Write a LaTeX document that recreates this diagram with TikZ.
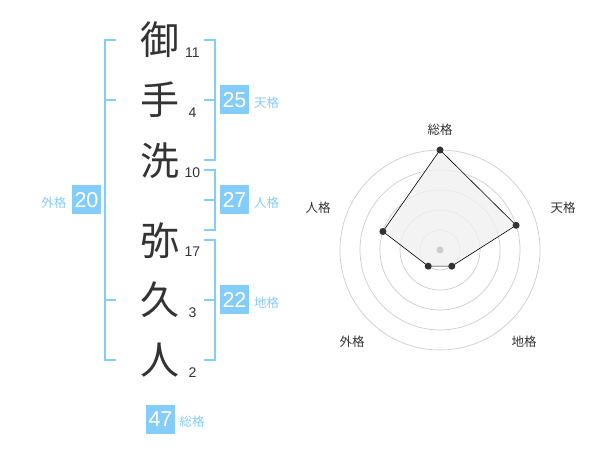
\documentclass[tikz,border=0pt]{standalone}
\usepackage{fontspec}
\setmainfont{Liberation Sans}
\newfontfamily\cjk{Noto Sans CJK JP}
\definecolor{kblue}{HTML}{84CCFA}
\definecolor{kdark}{HTML}{333333}
\definecolor{kgrid}{HTML}{CCCCCC}
\definecolor{kfill}{HTML}{F0F0F0}
\tikzset{
  kanji/.style={text=kdark, font=\cjk\fontsize{39}{39}\selectfont, inner sep=0pt},
  strokes/.style={text=kdark, font=\fontsize{14}{14}\selectfont, inner sep=0pt},
  brk/.style={draw=kblue, line width=2pt},
  numbox/.style={fill=kblue, text=white, font=\fontsize{21.5}{21.5}\selectfont, minimum width=29pt, minimum height=29pt, inner sep=0pt},
  kaku/.style={text=kblue, font=\cjk\fontsize{12.5}{12.5}\selectfont, inner sep=0pt},
  rlabel/.style={text=kdark, font=\cjk\fontsize{12.5}{12.5}\selectfont, inner sep=0pt},
  ring/.style={draw=kgrid, line width=0.7pt},
  dot/.style={circle, fill=kdark, inner sep=0pt, minimum size=7pt},
}
\begin{document}
\begin{tikzpicture}[x=1pt, y=-1pt]
\useasboundingbox (0,0) rectangle (600,470);
% kanji
\node[kanji] (k1) at (160,40) {御};
\node[kanji] (k2) at (160,100) {手};
\node[kanji] (k3) at (160,161) {洗};
\node[kanji] (k4) at (160,241) {弥};
\node[kanji] (k5) at (160,300) {久};
\node[kanji] (k6) at (160,360) {人};
% stroke counts
\node[strokes] (s1) at (192.5,53) {11};
\node[strokes] (s2) at (192.5,113) {4};
\node[strokes] (s3) at (192.5,173) {10};
\node[strokes] (s4) at (192.5,252) {17};
\node[strokes] (s5) at (192.5,313) {3};
\node[strokes] (s6) at (192.5,373) {2};
% left bracket (gaikaku)
\draw[brk] (116,40) -- (105,40) -- (105,360) -- (116,360);
\draw[brk] (105,100) -- (116,100);
\draw[brk] (105,300) -- (116,300);
% right brackets
\draw[brk] (204,40) -- (214.5,40) -- (214.5,160) -- (204,160);
\draw[brk] (204,100) -- (214.5,100);
\draw[brk] (204,170) -- (214.5,170) -- (214.5,230) -- (204,230);
\draw[brk] (204,200) -- (214.5,200);
\draw[brk] (204,240) -- (214.5,240) -- (214.5,360) -- (204,360);
\draw[brk] (204,300) -- (214.5,300);
% boxes
\node[numbox] (b25) at (234.5,100) {25};
\node[kaku, anchor=west] (l25) at (254,102.5) {天格};
\node[numbox] (b27) at (234.5,200) {27};
\node[kaku, anchor=west] (l27) at (254,202.5) {人格};
\node[numbox] (b22) at (234.5,300) {22};
\node[kaku, anchor=west] (l22) at (254,302.5) {地格};
\node[numbox] (b20) at (86.5,200) {20};
\node[kaku, anchor=east] (l20) at (66.5,202.5) {外格};
\node[numbox] (b47) at (160.5,419) {47};
\node[kaku, anchor=west] (l47) at (179.5,421.5) {総格};
% radar chart
\coordinate (c) at (440,250);
\foreach \r in {20,40,60,80,100} \draw[ring] (c) circle[radius=\r];
\path (c) ++(0,-100) coordinate (p1);
\path (c) ++(76.1,-24.7) coordinate (p2);
\path (c) ++(11.8,16.2) coordinate (p3);
\path (c) ++(-11.8,16.2) coordinate (p4);
\path (c) ++(-57.1,-18.5) coordinate (p5);
\draw[fill=kfill, fill opacity=0.8, draw=black, line width=0.6pt] (p1) -- (p2) -- (p3) -- (p4) -- (p5) -- cycle;
\node[circle, fill=kgrid, inner sep=0pt, minimum size=7pt] (cd) at (c) {};
\foreach \p in {p1,p2,p3,p4,p5} \node[dot] at (\p) {};
\node[rlabel] (r1) at (440,130) {総格};
\node[rlabel] (r2) at (563,208) {天格};
\node[rlabel] (r3) at (524,342) {地格};
\node[rlabel] (r4) at (352,342) {外格};
\node[rlabel] (r5) at (318,208) {人格};
\end{tikzpicture}
\end{document}
